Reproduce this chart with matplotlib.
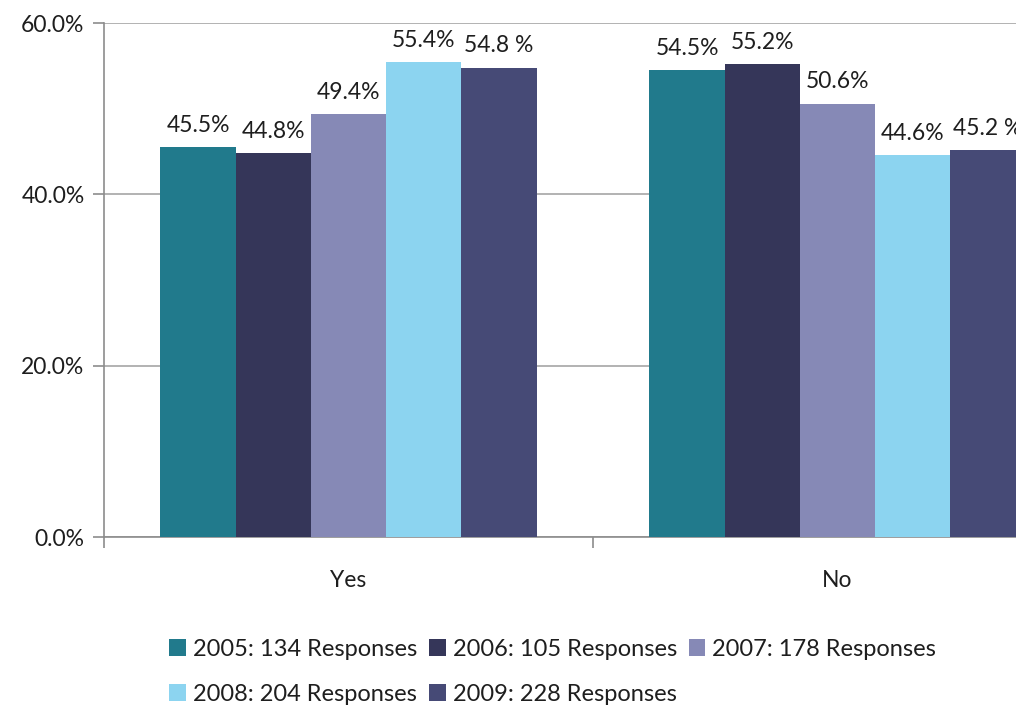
import numpy as np
import matplotlib.pyplot as plt
from matplotlib.ticker import FixedLocator, PercentFormatter

plt.rcParams['font.family'] = ['Lato', 'DejaVu Sans']

categories = ["Yes", "No"]
years = ["2005: 134 Responses", "2006: 105 Responses", "2007: 178 Responses",
         "2008: 204 Responses", "2009: 228 Responses"]
values = [
    [45.5, 54.5],   # 2005
    [44.8, 55.2],   # 2006
    [49.4, 50.6],   # 2007
    [55.4, 44.6],   # 2008
    [54.8, 45.2],   # 2009
]
colors = ["#217A8C", "#353659", "#8689B6", "#8CD4F0", "#464A76"]
txt = "#1E1E1E"

fig = plt.figure(figsize=(10.16, 7.07), dpi=100)
# axes runs past the right edge of the figure, so the last bar is cut off
ax = fig.add_axes([104 / 1016, 170 / 707, 978 / 1016, 514 / 707])

x = np.arange(len(categories))
n = len(values)
w = 1 / (n + 1.5)
handles = []
for i, (vals, col, lab) in enumerate(zip(values, colors, years)):
    pos = x + (i - (n - 1) / 2) * w
    bars = ax.bar(pos, vals, width=w, color=col, label=lab, zorder=3)
    handles.append(bars)
    fmt = "{:.1f} %" if i == n - 1 else "{:.1f}%"
    for b, v in zip(bars, vals):
        ax.annotate(fmt.format(v), (b.get_x() + b.get_width() / 2, v),
                    xytext=(0, 8), textcoords="offset points",
                    ha="center", va="bottom", fontsize=16.5, color=txt)

ax.set_ylim(0, 60)
ax.set_xlim(-0.5, 1.5)
ax.set_yticks([0, 20, 40, 60])
ax.yaxis.set_major_formatter(PercentFormatter(decimals=1))
ax.grid(axis="y", color="#A6A6A6", linewidth=1.2, zorder=0)

ax.xaxis.set_major_locator(FixedLocator([-0.5, 0.5, 1.5]))
ax.xaxis.set_major_formatter(plt.NullFormatter())
ax.set_xticks(x, minor=True)
ax.set_xticklabels(categories, minor=True)
ax.tick_params(axis="x", which="minor", length=0, pad=24, labelsize=16.5,
               labelcolor=txt)
ax.tick_params(axis="x", which="major", length=8, color="#8C8C8C", width=1.2)
ax.tick_params(axis="y", length=8, color="#8C8C8C", width=1.2, labelsize=16.5,
               labelcolor=txt, pad=6)

for s in ["top", "right"]:
    ax.spines[s].set_visible(False)
for s in ["left", "bottom"]:
    ax.spines[s].set_color("#8C8C8C")
    ax.spines[s].set_linewidth(1.2)

# legend fills column by column, so order handles to read row by row
order = [0, 3, 1, 4, 2]
leg = fig.legend([handles[k] for k in order], [years[k] for k in order],
                 loc="lower left", bbox_to_anchor=(160 / 1016, -0.01), ncol=3,
                 frameon=False, fontsize=17, handlelength=0.7, handleheight=0.7,
                 handletextpad=0.3, columnspacing=0.5, labelspacing=1.0,
                 borderaxespad=0, labelcolor=txt)

fig.savefig("out.png", dpi=100)
